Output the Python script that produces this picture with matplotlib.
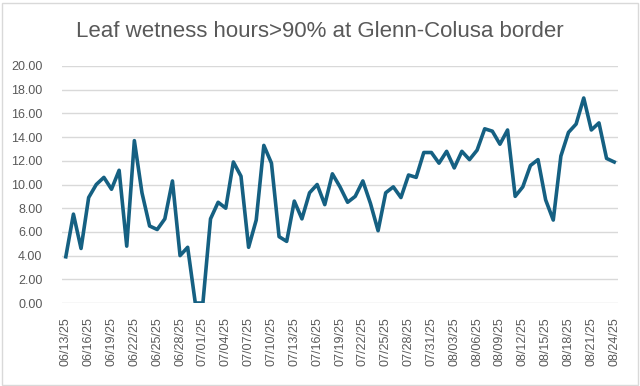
import numpy as np
import pandas as pd
import matplotlib
matplotlib.use("Agg")
import matplotlib.pyplot as plt
from matplotlib.patches import FancyBboxPatch

# daily leaf wetness hours, 06/13/25 .. 08/24/25
dates = pd.date_range("2025-06-13", "2025-08-24", freq="D")
hours = [3.9, 7.5, 4.6, 8.9, 10.0, 10.6, 9.6, 11.2, 4.8, 13.7,
         9.3, 6.5, 6.2, 7.1, 10.3, 4.0, 4.7, 0.0, 0.0, 7.1,
         8.5, 8.0, 11.9, 10.7, 4.7, 7.0, 13.3, 11.8, 5.6, 5.2,
         8.6, 7.1, 9.3, 10.0, 8.3, 10.9, 9.8, 8.5, 9.0, 10.3,
         8.4, 6.1, 9.3, 9.8, 8.9, 10.8, 10.6, 12.7, 12.7, 11.8,
         12.8, 11.4, 12.8, 12.1, 12.9, 14.7, 14.5, 13.4, 14.6, 9.0,
         9.8, 11.6, 12.1, 8.7, 7.0, 12.4, 14.4, 15.1, 17.3, 14.6,
         15.2, 12.2, 11.9]
labels = [d.strftime("%m/%d/%y") for d in dates]

plt.rcParams['font.family'] = ['Liberation Sans', 'DejaVu Sans']
grey = "#595959"

fig = plt.figure(figsize=(6.4, 3.86), dpi=100)
ax = fig.add_axes([62/640, 1-303/386, 556/640, 237/386])

x = np.arange(len(hours))
ax.plot(x, hours, color="#156082", lw=2.6, solid_joinstyle="round")

ax.set_xlim(-0.5, len(hours)-0.5)
ax.set_ylim(0, 20)
ax.set_yticks(np.arange(0, 21, 2))
ax.set_yticklabels(["%.2f" % v for v in np.arange(0, 21, 2)])
ax.set_xticks(x[::3])
ax.set_xticklabels(labels[::3], rotation=90)
ax.tick_params(axis="both", length=0, labelsize=9, colors=grey)
ax.tick_params(axis="y", pad=14)
ax.tick_params(axis="x", pad=10)
ax.grid(axis="y", color="#d9d9d9", lw=1)
ax.set_axisbelow(True)
for s in ax.spines.values():
    s.set_visible(False)

fig.text(0.5, 1-37/386, "Leaf wetness hours>90% at Glenn-Colusa border",
         ha="center", va="baseline", fontsize=16, color=grey)

# chart border
fig.patches.append(FancyBboxPatch((1.5/640, 1.5/386), 636/640, 382/386,
                                  boxstyle="square,pad=0", transform=fig.transFigure,
                                  fill=False, ec="#d9d9d9", lw=1))

fig.savefig("out.png", dpi=100)
